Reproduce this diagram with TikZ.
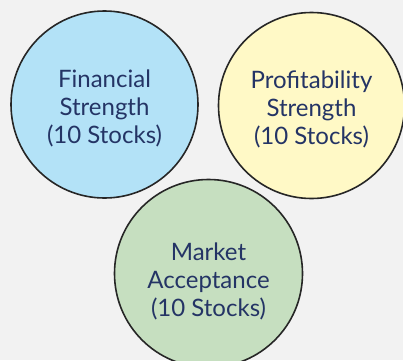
\documentclass[tikz,border=0pt]{standalone}
\usepackage{fontspec}
\setmainfont{Lato}
\definecolor{bgGrey}{HTML}{F2F2F2}
\definecolor{textNavy}{HTML}{243465}
\definecolor{finBlue}{HTML}{B3E2F7}
\definecolor{profYellow}{HTML}{FFF9C6}
\definecolor{mktGreen}{HTML}{C6DFC0}
\tikzset{
    groupcircle/.style={circle, draw=black!85, line width=1.6pt, inner sep=0pt},
    grouptext/.style={text=textNavy, align=center, yshift=-4pt,
        font=\fontsize{24}{28.4}\selectfont}
}

\begin{document}
\begin{tikzpicture}[x=1pt, y=1pt]
    % Globals
    \pgfmathsetmacro{\picW}{403}
    \pgfmathsetmacro{\picH}{360}

    \fill[bgGrey] (0, 0) rectangle (\picW, \picH);
    \useasboundingbox (0, 0) rectangle (\picW, \picH);

    \node[groupcircle, fill=finBlue, minimum size=187pt,
        label={[grouptext]center:{Financial\\Strength\\(10 Stocks)}}] (FIN) at (104.5, 255.5) {};
    \node[groupcircle, fill=profYellow, minimum size=186pt,
        label={[grouptext]center:{Profitability\\Strength\\(10 Stocks)}}] (PROF) at (311.5, 254.5) {};
    \node[groupcircle, fill=mktGreen, minimum size=188pt,
        label={[grouptext, yshift=-4pt]center:{Market\\Acceptance\\(10 Stocks)}}] (MKT) at (208.5, 86.5) {};

\end{tikzpicture}
\end{document}
